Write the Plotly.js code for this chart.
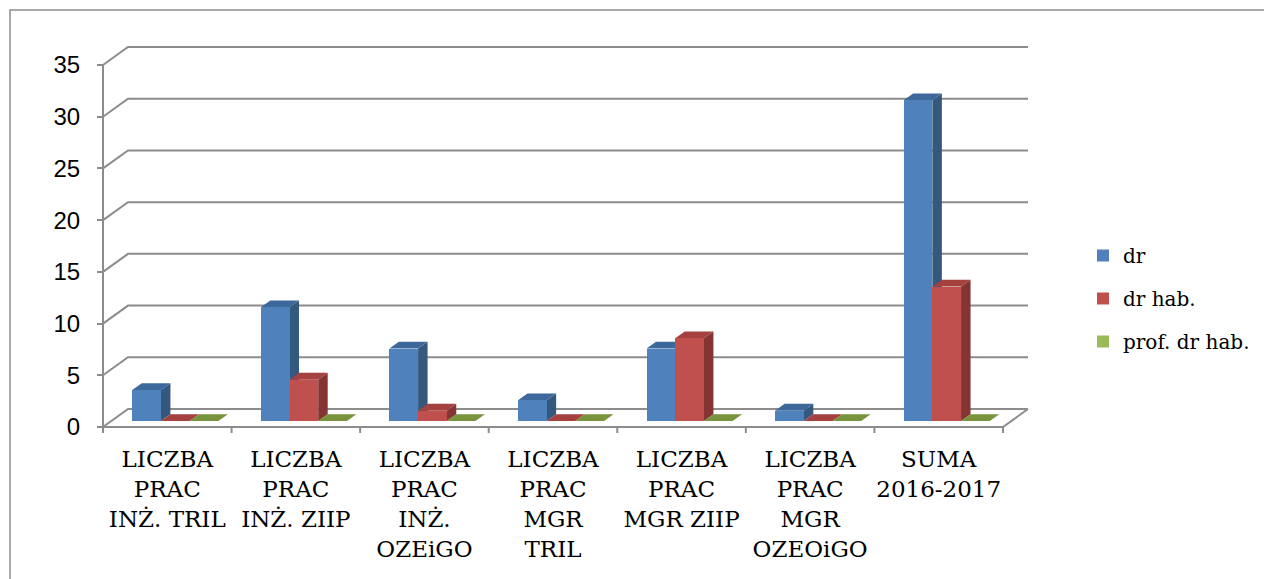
<!DOCTYPE html>
<html>
<head>
<meta charset="utf-8">
<script src="https://cdn.plot.ly/plotly-3.0.1.min.js"></script>
<style>
  html, body { margin: 0; padding: 0; background: #fff; }
  #chart { width: 1264px; height: 579px; }
</style>
</head>
<body>
<div id="chart"></div>
<script>
// Categories (axis labels) and series
const categories = [
  "LICZBA<br>PRAC<br>INŻ. TRIL",
  "LICZBA<br>PRAC<br>INŻ. ZIIP",
  "LICZBA<br>PRAC<br>INŻ.<br>OZEiGO",
  "LICZBA<br>PRAC<br>MGR<br>TRIL",
  "LICZBA<br>PRAC<br>MGR ZIIP",
  "LICZBA<br>PRAC<br>MGR<br>OZEOiGO",
  "SUMA<br>2016-2017"
];
const seriesNames = ["dr", "dr hab.", "prof. dr hab."];
const drValues = [3, 11, 7, 2, 7, 1, 31];
const drHabValues = [0, 4, 1, 0, 8, 0, 13];
const profDrHabValues = [0, 0, 0, 0, 0, 0, 0];
const yTicks = [0, 5, 10, 15, 20, 25, 30, 35];

const seriesValues = [drValues, drHabValues, profDrHabValues];

// Face colours: front, side, top
const frontColors = ["#4F81BD", "#C0504D", "#9BBB59"];
const sideColors  = ["#35587F", "#843533", "#6C8734"];
const topColors   = ["#3D689C", "#A5413E", "#77933C"];

const serifFont = '"DejaVu Serif", serif';
const sansFont = '"Liberation Sans", Arial, sans-serif';

// Pixel layout of the pseudo-3D box
const plotLeft = 90, plotRight = 1035, plotTop = 40, plotBottom = 440;
const frontLeft = 103, frontRight = 1003;     // front floor edge
const frontZero = 427, frontTopVal = 65;      // y pixel of 0 and 35 on the front axis
const nCat = categories.length;
const pxPerCat = (frontRight - frontLeft) / nCat;
const pxPerUnit = (frontZero - frontTopVal) / 35;

// wall depth and bar depth, converted to axis units
const wallDX = 25 / pxPerCat, wallDY = 18 / pxPerUnit;
const barDX = 9.5 / pxPerCat, barDY = 6.8 / pxPerUnit;
// bars stand a little behind the front edge
const barShiftX = 8 / pxPerCat, barShiftY = 6 / pxPerUnit;
const barW = 28.7 / pxPerCat;

const xRange = [-0.5 - (frontLeft - plotLeft) / pxPerCat,
                nCat - 0.5 + (plotRight - frontRight) / pxPerCat];
const y2Range = [-(plotBottom - frontZero) / pxPerUnit,
                 (frontZero - plotTop) / pxPerUnit];
const yRange = [y2Range[0] - barShiftY, y2Range[1] - barShiftY];

const xIdx = categories.map((_, i) => i);
const offsets = seriesNames.map((_, k) => barShiftX + (k - 1.5) * barW);

const traces = seriesNames.map((name, k) => ({
  type: "bar",
  name: name,
  x: xIdx,
  y: seriesValues[k],
  width: barW,
  offset: offsets[k],
  marker: { color: frontColors[k], line: { width: 0 } },
  legendgroup: "g" + k,
  hoverinfo: "skip",
  xaxis: "x",
  yaxis: "y"
}));

const shapes = [];
const gridColor = "#8C8C8C";

// back-wall gridlines with their diagonal on the left wall
const xl = -0.5, xr = nCat - 0.5;
yTicks.forEach(v => {
  shapes.push({
    type: "path", layer: "below", xref: "x", yref: "y2",
    path: `M${xl},${v} L${xl + wallDX},${v + wallDY} L${xr + wallDX},${v + wallDY}`,
    line: { color: gridColor, width: 2 }
  });
});
// front floor edge and right floor edge
shapes.push({
  type: "path", layer: "below", xref: "x", yref: "y2",
  path: `M${xl},0 L${xr},0 L${xr + wallDX},${wallDY}`,
  line: { color: gridColor, width: 2 }
});
// vertical value axis
shapes.push({
  type: "line", layer: "below", xref: "x", yref: "y2",
  x0: xl, x1: xl, y0: 0, y1: yTicks[yTicks.length - 1],
  line: { color: gridColor, width: 2 }
});
// category separators below the floor edge
for (let k = 0; k <= nCat; k++) {
  shapes.push({
    type: "line", layer: "below", xref: "x", yref: "y2",
    x0: xl + k, x1: xl + k, y0: 0, y1: -6 / pxPerUnit,
    line: { color: gridColor, width: 2 }
  });
}

// side and top faces of each column
xIdx.forEach(i => {
  seriesNames.forEach((_, k) => {
    const v = seriesValues[k][i];
    const a = i + offsets[k];
    const b = a + barW;
    if (v > 0) {
      shapes.push({
        type: "path", layer: "below", xref: "x", yref: "y",
        path: `M${b},0 L${b + barDX},${barDY} L${b + barDX},${v + barDY} L${b},${v} Z`,
        fillcolor: sideColors[k], line: { width: 0 }
      });
    }
    shapes.push({
      type: "path", layer: "below", xref: "x", yref: "y",
      path: `M${a},${v} L${a + barDX},${v + barDY} L${b + barDX},${v + barDY} L${b},${v} Z`,
      fillcolor: topColors[k], line: { width: 0 }
    });
  });
});

// outer chart frame
const pw = plotRight - plotLeft, ph = plotBottom - plotTop;
shapes.push({
  type: "rect", layer: "below", xref: "paper", yref: "paper",
  x0: (10 - plotLeft) / pw, x1: (1275 - plotLeft) / pw,
  y0: (plotBottom - 600) / ph, y1: (plotBottom - 10) / ph,
  line: { color: "#8C8C8C", width: 1.5 }, fillcolor: "rgba(0,0,0,0)"
});

const layout = {
  width: 1264,
  height: 579,
  margin: { l: plotLeft, r: 1264 - plotRight, t: plotTop, b: 579 - plotBottom, pad: 0, autoexpand: false },
  paper_bgcolor: "#ffffff",
  plot_bgcolor: "rgba(0,0,0,0)",
  showlegend: true,
  bargap: 0,
  barmode: "overlay",
  xaxis: {
    type: "linear",
    range: xRange,
    tickvals: xIdx,
    ticktext: categories,
    ticks: "",
    ticklen: 0,
    showgrid: false,
    zeroline: false,
    showline: false,
    fixedrange: true,
    tickfont: { family: serifFont, size: 23, color: "#000" },
    ticklabelstandoff: 3
  },
  yaxis: {
    range: yRange,
    visible: false,
    fixedrange: true
  },
  yaxis2: {
    range: y2Range,
    overlaying: "y",
    anchor: "free",
    position: (frontLeft - plotLeft) / pw,
    side: "left",
    tickvals: yTicks,
    ticks: "outside",
    ticklen: 6,
    tickwidth: 2,
    tickcolor: gridColor,
    showgrid: false,
    zeroline: false,
    showline: false,
    fixedrange: true,
    tickfont: { family: sansFont, size: 24, color: "#000" },
    ticklabelstandoff: 12
  },
  legend: {
    x: (1083 - plotLeft) / pw,
    y: (plotBottom - 236) / ph,
    xanchor: "left",
    yanchor: "top",
    bgcolor: "rgba(0,0,0,0)",
    font: { family: serifFont, size: 20, color: "#000" },
    traceorder: "grouped",
    tracegroupgap: 14
  },
  shapes: shapes
};

// an empty trace so the overlaying value axis is drawn
traces.push({
  type: "scatter", x: [], y: [], xaxis: "x", yaxis: "y2",
  showlegend: false, hoverinfo: "skip"
});

Plotly.newPlot("chart", traces, layout, { displayModeBar: false, staticPlot: true });
</script>
</body>
</html>
